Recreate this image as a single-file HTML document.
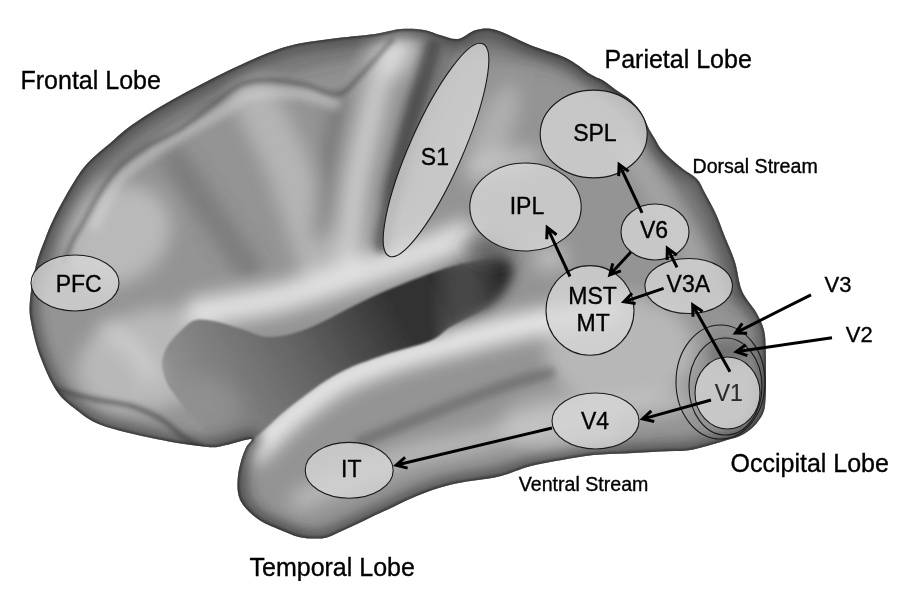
<!DOCTYPE html>
<html><head><meta charset="utf-8"><style>
html,body{margin:0;padding:0;background:#fff;}
svg{display:block;}
text{font-family:"Liberation Sans",sans-serif;fill:#000;stroke:#000;stroke-width:0.35px;}
</style></head><body>
<svg width="899" height="593" viewBox="0 0 899 593">
<defs>
<clipPath id="cb"><path d="M30.0,300.0 C29.2,309.5 29.3,312.7 31.0,322.0 C32.7,331.3 35.8,344.7 40.0,356.0 C44.2,367.3 50.3,381.3 56.0,390.0 C61.7,398.7 66.5,402.2 74.0,408.0 C81.5,413.8 87.3,419.8 101.0,425.0 C114.7,430.2 138.2,435.3 156.0,439.0 C173.8,442.7 196.3,446.0 208.0,447.0 C219.7,448.0 218.8,446.3 226.0,445.0 C233.2,443.7 247.7,438.6 251.0,439.0 C254.3,439.4 247.7,443.6 246.0,447.4 C244.3,451.2 242.2,456.7 240.8,462.0 C239.4,467.3 238.0,473.3 237.7,479.0 C237.3,484.7 237.3,491.1 238.7,496.0 C240.1,500.9 242.3,504.4 246.0,508.6 C249.7,512.8 255.2,517.5 260.8,521.0 C266.4,524.5 273.5,527.0 279.8,529.7 C286.1,532.4 293.3,535.5 298.8,537.0 C304.3,538.5 308.5,538.4 313.0,538.5 C317.5,538.6 321.7,538.8 326.0,537.8 C330.3,536.8 334.0,534.5 339.0,532.3 C344.0,530.1 350.5,527.1 356.0,524.5 C361.5,521.9 366.5,519.3 372.0,516.7 C377.5,514.1 382.5,512.0 389.0,509.0 C395.5,506.0 403.5,501.8 411.0,498.5 C418.5,495.2 426.5,492.0 434.0,489.5 C441.5,487.0 448.7,485.1 456.0,483.5 C463.3,481.9 470.5,481.2 478.0,480.0 C485.5,478.8 492.2,478.3 501.0,476.0 C509.8,473.7 520.8,468.7 531.0,466.0 C541.2,463.3 551.6,461.8 562.0,460.0 C572.4,458.2 583.0,456.1 593.5,455.0 C604.0,453.9 613.9,454.1 625.0,453.5 C636.1,452.9 649.7,451.9 660.0,451.4 C670.3,450.9 679.2,451.4 687.0,450.5 C694.8,449.6 700.3,447.8 707.0,446.0 C713.7,444.2 721.5,441.7 727.0,440.0 C732.5,438.3 735.6,438.2 740.0,436.0 C744.4,433.8 749.7,430.5 753.5,426.7 C757.3,422.9 761.0,417.8 763.0,413.4 C765.0,408.9 765.0,405.9 765.5,400.0 C766.0,394.1 766.0,386.3 766.0,378.0 C766.0,369.7 766.0,358.0 765.7,350.0 C765.4,342.0 765.6,336.3 764.0,330.0 C762.4,323.7 759.7,318.5 756.0,312.0 C752.3,305.5 745.5,299.3 742.0,291.0 C738.5,282.7 737.8,271.0 735.0,262.0 C732.2,253.0 728.2,245.0 725.0,237.0 C721.8,229.0 719.3,221.3 716.0,214.0 C712.7,206.7 708.2,198.8 705.0,193.0 C701.8,187.2 700.7,183.0 697.0,179.0 C693.3,175.0 687.3,172.3 683.0,169.0 C678.7,165.7 674.7,162.3 671.0,159.0 C667.3,155.7 663.7,152.3 661.0,149.0 C658.3,145.7 657.0,142.3 655.0,139.0 C653.0,135.7 650.8,132.5 649.0,129.0 C647.2,125.5 645.8,121.5 644.0,118.0 C642.2,114.5 640.7,111.3 638.0,108.0 C635.3,104.7 631.7,101.0 628.0,98.0 C624.3,95.0 620.0,92.8 616.0,90.0 C612.0,87.2 608.3,83.7 604.0,81.0 C599.7,78.3 596.3,77.8 590.0,74.0 C583.7,70.2 576.0,62.8 566.0,58.0 C556.0,53.2 541.7,49.7 530.0,45.0 C518.3,40.3 505.0,32.5 496.0,30.0 C487.0,27.5 482.3,28.5 476.0,30.0 C469.7,31.5 464.0,38.2 458.0,39.0 C452.0,39.8 445.7,36.5 440.0,35.0 C434.3,33.5 430.5,31.0 424.0,30.0 C417.5,29.0 409.2,28.3 401.0,29.0 C392.8,29.7 386.8,32.3 375.0,34.0 C363.2,35.7 345.0,36.8 330.0,39.0 C315.0,41.2 300.7,42.3 285.0,47.0 C269.3,51.7 254.8,58.2 236.0,67.0 C217.2,75.8 189.0,90.6 172.0,100.0 C155.0,109.4 144.2,116.5 134.0,123.6 C123.8,130.7 118.8,135.8 111.0,142.5 C103.2,149.2 93.7,156.2 87.0,163.7 C80.3,171.2 76.2,178.2 70.7,187.3 C65.2,196.4 58.3,209.2 54.0,218.0 C49.7,226.8 47.7,232.2 44.7,240.0 C41.7,247.8 38.5,255.0 36.0,265.0 C33.5,275.0 30.8,290.5 30.0,300.0Z"/></clipPath>
<filter id="b9" x="-50%" y="-50%" width="200%" height="200%"><feGaussianBlur stdDeviation="9"/></filter>
<filter id="b4" x="-50%" y="-50%" width="200%" height="200%"><feGaussianBlur stdDeviation="3.5"/></filter>
<filter id="b2" x="-20%" y="-20%" width="140%" height="140%"><feGaussianBlur stdDeviation="2"/></filter>
<filter id="b1" x="-20%" y="-20%" width="140%" height="140%"><feGaussianBlur stdDeviation="1.2"/></filter>
<filter id="b14" x="-50%" y="-50%" width="200%" height="200%"><feGaussianBlur stdDeviation="14"/></filter>
<filter id="b6" x="-50%" y="-50%" width="200%" height="200%"><feGaussianBlur stdDeviation="6"/></filter>
<linearGradient id="gmL" x1="430" y1="0" x2="500" y2="0" gradientUnits="userSpaceOnUse"><stop offset="0" stop-color="#fff"/><stop offset="1" stop-color="#000"/></linearGradient>
<linearGradient id="gmR" x1="430" y1="0" x2="500" y2="0" gradientUnits="userSpaceOnUse"><stop offset="0" stop-color="#000"/><stop offset="1" stop-color="#fff"/></linearGradient>
<mask id="mL" maskUnits="userSpaceOnUse" x="0" y="0" width="899" height="593"><rect x="0" y="0" width="899" height="593" fill="url(#gmL)"/></mask>
<mask id="mR" maskUnits="userSpaceOnUse" x="0" y="0" width="899" height="593"><rect x="0" y="0" width="899" height="593" fill="url(#gmR)"/></mask>
<linearGradient id="gf" x1="190" y1="430" x2="480" y2="270" gradientUnits="userSpaceOnUse">
<stop offset="0" stop-color="#939393"/><stop offset="0.4" stop-color="#646464"/><stop offset="0.72" stop-color="#333"/><stop offset="1" stop-color="#2c2c2c"/>
</linearGradient>
</defs>
<g clip-path="url(#cb)">
<rect x="0" y="0" width="899" height="593" fill="#949494"/>
<g filter="url(#b9)"><ellipse cx="115" cy="235" rx="58" ry="48" fill="#d2d2d2" opacity="0.6" transform="rotate(-30 115 235)"/><path d="M52.0,262.0 C55.3,252.5 61.5,222.8 72.0,205.0 C82.5,187.2 97.8,170.5 115.0,155.0 C132.2,139.5 154.2,124.8 175.0,112.0 C195.8,99.2 219.2,86.7 240.0,78.0 C260.8,69.3 280.0,65.0 300.0,60.0 C320.0,55.0 350.0,50.0 360.0,48.0" fill="none" stroke="#303030" stroke-width="22" stroke-linecap="round" stroke-linejoin="round" opacity="0.3"/><ellipse cx="150" cy="360" rx="75" ry="50" fill="#d0d0d0" opacity="0.6" transform="rotate(-15 150 360)"/><path d="M255.0,100.0 C260.0,110.0 276.7,140.8 285.0,160.0 C293.3,179.2 299.2,198.0 305.0,215.0 C310.8,232.0 317.5,254.2 320.0,262.0" fill="none" stroke="#d6d6d6" stroke-width="44" stroke-linecap="round" stroke-linejoin="round" opacity="0.5"/><path d="M175.0,160.0 C181.7,170.0 202.5,201.7 215.0,220.0 C227.5,238.3 244.2,261.7 250.0,270.0" fill="none" stroke="#505050" stroke-width="26" stroke-linecap="round" stroke-linejoin="round" opacity="0.35"/><path d="M388.0,42.0 C385.0,55.0 375.5,95.3 370.0,120.0 C364.5,144.7 358.5,167.0 355.0,190.0 C351.5,213.0 350.0,246.7 349.0,258.0" fill="none" stroke="#dedede" stroke-width="24" stroke-linecap="round" stroke-linejoin="round" opacity="0.75"/><path d="M200.0,312.0 C211.7,310.0 248.3,304.8 270.0,300.0 C291.7,295.2 310.0,289.2 330.0,283.0 C350.0,276.8 372.5,269.0 390.0,263.0 C407.5,257.0 423.0,251.5 435.0,247.0 C447.0,242.5 457.5,237.8 462.0,236.0" fill="none" stroke="#ececec" stroke-width="30" stroke-linecap="round" stroke-linejoin="round" opacity="0.85"/><path d="M470.0,40.0 C485.0,42.5 531.7,44.2 560.0,55.0 C588.3,65.8 626.7,96.7 640.0,105.0" fill="none" stroke="#383838" stroke-width="26" stroke-linecap="round" stroke-linejoin="round" opacity="0.35"/><path d="M342.0,98.0 C339.7,109.5 331.8,144.2 328.0,167.0 C324.2,189.8 320.5,223.7 319.0,235.0" fill="none" stroke="#4a4a4a" stroke-width="16" stroke-linecap="round" stroke-linejoin="round" opacity="0.4"/><path d="M445.0,48.0 C440.0,60.0 423.8,96.3 415.0,120.0 C406.2,143.7 395.8,178.3 392.0,190.0" fill="none" stroke="#303030" stroke-width="28" stroke-linecap="round" stroke-linejoin="round" opacity="0.35"/><ellipse cx="398" cy="55" rx="14" ry="26" fill="#e8e8e8" opacity="0.7" transform="rotate(25 398 55)"/><ellipse cx="620" cy="350" rx="75" ry="55" fill="#cfcfcf" opacity="0.6" transform="rotate(0 620 350)"/><ellipse cx="560" cy="425" rx="60" ry="30" fill="#d0d0d0" opacity="0.5" transform="rotate(0 560 425)"/><path d="M652.0,140.0 C658.3,150.0 678.7,180.3 690.0,200.0 C701.3,219.7 711.7,241.3 720.0,258.0 C728.3,274.7 736.7,293.0 740.0,300.0" fill="none" stroke="#383838" stroke-width="12" stroke-linecap="round" stroke-linejoin="round" opacity="0.5"/><path d="M628.0,150.0 C634.7,160.0 656.3,191.3 668.0,210.0 C679.7,228.7 693.0,253.3 698.0,262.0" fill="none" stroke="#d0d0d0" stroke-width="14" stroke-linecap="round" stroke-linejoin="round" opacity="0.4"/><ellipse cx="550" cy="258" rx="18" ry="14" fill="#dddddd" opacity="0.5" transform="rotate(0 550 258)"/><ellipse cx="728" cy="352" rx="24" ry="11" fill="#303030" opacity="0.45" transform="rotate(0 728 352)"/><ellipse cx="492" cy="135" rx="18" ry="55" fill="#d0d0d0" opacity="0.45" transform="rotate(23 492 135)"/><ellipse cx="505" cy="162" rx="38" ry="13" fill="#d8d8d8" opacity="0.55" transform="rotate(-10 505 162)"/><path d="M255.0,450.0 C261.7,443.7 280.8,423.7 295.0,412.0 C309.2,400.3 324.2,388.7 340.0,380.0 C355.8,371.3 373.3,365.7 390.0,360.0 C406.7,354.3 418.3,351.7 440.0,346.0 C461.7,340.3 491.7,332.3 520.0,326.0 C548.3,319.7 595.0,311.0 610.0,308.0" fill="none" stroke="#f2f2f2" stroke-width="26" stroke-linecap="round" stroke-linejoin="round" opacity="0.9"/><path d="M300.0,500.0 C316.7,493.0 371.7,467.7 400.0,458.0 C428.3,448.3 448.3,447.3 470.0,442.0 C491.7,436.7 508.3,431.0 530.0,426.0 C551.7,421.0 575.0,416.0 600.0,412.0 C625.0,408.0 666.7,403.7 680.0,402.0" fill="none" stroke="#d8d8d8" stroke-width="20" stroke-linecap="round" stroke-linejoin="round" opacity="0.55"/><path d="M330.0,532.0 C350.0,524.7 413.5,500.3 450.0,488.0 C486.5,475.7 507.3,464.8 549.0,458.0 C590.7,451.2 674.8,448.8 700.0,447.0" fill="none" stroke="#404040" stroke-width="10" stroke-linecap="round" stroke-linejoin="round" opacity="0.15"/><path d="M252.0,442.0 C250.3,445.8 244.2,457.0 242.0,465.0 C239.8,473.0 238.2,482.5 239.0,490.0 C239.8,497.5 242.7,504.2 247.0,510.0 C251.3,515.8 256.2,520.3 265.0,525.0 C273.8,529.7 294.2,535.8 300.0,538.0" fill="none" stroke="#383838" stroke-width="12" stroke-linecap="round" stroke-linejoin="round" opacity="0.35"/></g>
<g filter="url(#b4)"><path d="M432.0,48.0 C428.5,60.0 417.5,96.3 411.0,120.0 C404.5,143.7 397.8,169.2 393.0,190.0 C388.2,210.8 383.8,235.8 382.0,245.0" fill="none" stroke="#2a2a2a" stroke-width="16" stroke-linecap="round" stroke-linejoin="round" opacity="0.5"/><path d="M95.0,225.0 C98.3,218.3 108.3,195.0 115.0,185.0 C121.7,175.0 125.0,172.8 135.0,165.0 C145.0,157.2 160.0,147.2 175.0,138.0 C190.0,128.8 212.5,117.2 225.0,110.0 C237.5,102.8 237.5,97.7 250.0,95.0 C262.5,92.3 285.8,92.5 300.0,94.0 C314.2,95.5 329.2,102.3 335.0,104.0" fill="none" stroke="#d8d8d8" stroke-width="12" stroke-linecap="round" stroke-linejoin="round" opacity="0.45"/><path d="M360.0,442.0 C369.2,438.3 396.5,427.3 415.0,420.0 C433.5,412.7 453.5,404.5 471.0,398.0 C488.5,391.5 506.8,385.2 520.0,381.0 C533.2,376.8 545.0,374.3 550.0,373.0" fill="none" stroke="#5a5a5a" stroke-width="12" stroke-linecap="round" stroke-linejoin="round" opacity="0.5"/></g>
<g filter="url(#b2)"><path d="M64.0,262.0 C65.5,258.3 69.8,246.5 73.0,240.0 C76.2,233.5 78.7,230.7 83.0,223.0 C87.3,215.3 93.2,203.1 99.0,194.0 C104.8,184.9 110.2,176.3 118.0,168.5 C125.8,160.7 135.7,153.6 146.0,147.0 C156.3,140.4 167.8,136.8 180.0,129.0 C192.2,121.2 208.7,107.5 219.0,100.0 C229.3,92.5 233.3,87.3 242.0,84.0 C250.7,80.7 260.3,79.8 271.0,80.0 C281.7,80.2 294.8,82.7 306.0,85.0 C317.2,87.3 329.0,95.5 338.0,94.0 C347.0,92.5 351.0,85.0 360.0,76.0 C369.0,67.0 386.7,46.0 392.0,40.0" fill="none" stroke="#2e2e2e" stroke-width="4" stroke-linecap="round" stroke-linejoin="round" opacity="0.45"/></g>
<path d="M162.0,364.0 C162.0,358.0 163.8,352.7 167.0,347.0 C170.2,341.3 176.7,334.5 181.5,330.0 C186.3,325.5 189.9,321.3 196.0,320.0 C202.1,318.7 210.2,320.4 218.0,322.0 C225.8,323.6 234.3,327.0 243.0,329.5 C251.7,332.0 259.0,337.2 270.0,337.0 C281.0,336.8 291.7,334.8 309.0,328.0 C326.3,321.2 352.2,305.7 374.0,296.0 C395.8,286.3 423.0,275.8 440.0,270.0 C457.0,264.2 465.8,263.0 476.0,261.0 C486.2,259.0 494.8,257.2 501.0,258.0 C507.2,258.8 511.7,261.5 513.0,266.0 C514.3,270.5 512.8,278.3 509.0,285.0 C505.2,291.7 499.5,299.2 490.0,306.0 C480.5,312.8 462.0,320.2 452.0,326.0 C442.0,331.8 441.3,336.2 430.0,341.0 C418.7,345.8 399.5,349.5 384.0,355.0 C368.5,360.5 352.7,365.3 337.0,374.0 C321.3,382.7 304.2,396.0 290.0,407.0 C275.8,418.0 261.7,433.7 252.0,440.0 C242.3,446.3 238.5,444.7 232.0,445.0 C225.5,445.3 217.8,445.0 213.0,442.0 C208.2,439.0 207.0,431.8 203.0,427.0 C199.0,422.2 193.3,417.8 189.0,413.0 C184.7,408.2 180.7,403.0 177.0,398.0 C173.3,393.0 169.5,388.7 167.0,383.0 C164.5,377.3 162.0,370.0 162.0,364.0Z" fill="url(#gf)" filter="url(#b1)" mask="url(#mL)"/>
<path d="M162.0,364.0 C162.0,358.0 163.8,352.7 167.0,347.0 C170.2,341.3 176.7,334.5 181.5,330.0 C186.3,325.5 189.9,321.3 196.0,320.0 C202.1,318.7 210.2,320.4 218.0,322.0 C225.8,323.6 234.3,327.0 243.0,329.5 C251.7,332.0 259.0,337.2 270.0,337.0 C281.0,336.8 291.7,334.8 309.0,328.0 C326.3,321.2 352.2,305.7 374.0,296.0 C395.8,286.3 423.0,275.8 440.0,270.0 C457.0,264.2 465.8,263.0 476.0,261.0 C486.2,259.0 494.8,257.2 501.0,258.0 C507.2,258.8 511.7,261.5 513.0,266.0 C514.3,270.5 512.8,278.3 509.0,285.0 C505.2,291.7 499.5,299.2 490.0,306.0 C480.5,312.8 462.0,320.2 452.0,326.0 C442.0,331.8 441.3,336.2 430.0,341.0 C418.7,345.8 399.5,349.5 384.0,355.0 C368.5,360.5 352.7,365.3 337.0,374.0 C321.3,382.7 304.2,396.0 290.0,407.0 C275.8,418.0 261.7,433.7 252.0,440.0 C242.3,446.3 238.5,444.7 232.0,445.0 C225.5,445.3 217.8,445.0 213.0,442.0 C208.2,439.0 207.0,431.8 203.0,427.0 C199.0,422.2 193.3,417.8 189.0,413.0 C184.7,408.2 180.7,403.0 177.0,398.0 C173.3,393.0 169.5,388.7 167.0,383.0 C164.5,377.3 162.0,370.0 162.0,364.0Z" fill="url(#gf)" filter="url(#b6)" mask="url(#mR)"/>
<g filter="url(#b9)"><ellipse cx="215" cy="400" rx="30" ry="20" fill="#9a9a9a" opacity="0.45" transform="rotate(30 215 400)"/><path d="M108.0,330.0 C112.5,333.3 128.0,342.5 135.0,350.0 C142.0,357.5 147.5,370.8 150.0,375.0" fill="none" stroke="#e0e0e0" stroke-width="18" stroke-linecap="round" stroke-linejoin="round" opacity="0.5"/><ellipse cx="488" cy="250" rx="26" ry="12" fill="#3a3a3a" opacity="0.55" transform="rotate(12 488 250)"/></g>
<g filter="url(#b2)"><path d="M55.0,389.0 C61.3,390.7 80.3,396.2 93.0,399.0 C105.7,401.8 119.7,402.7 131.0,406.0 C142.3,409.3 152.5,414.0 161.0,419.0 C169.5,424.0 175.5,431.3 182.0,436.0 C188.5,440.7 197.0,445.2 200.0,447.0" fill="none" stroke="#3a3a3a" stroke-width="5" stroke-linecap="round" stroke-linejoin="round" opacity="0.55"/></g>
<path d="M30.0,300.0 C29.2,309.5 29.3,312.7 31.0,322.0 C32.7,331.3 35.8,344.7 40.0,356.0 C44.2,367.3 50.3,381.3 56.0,390.0 C61.7,398.7 66.5,402.2 74.0,408.0 C81.5,413.8 87.3,419.8 101.0,425.0 C114.7,430.2 138.2,435.3 156.0,439.0 C173.8,442.7 196.3,446.0 208.0,447.0 C219.7,448.0 218.8,446.3 226.0,445.0 C233.2,443.7 247.7,438.6 251.0,439.0 C254.3,439.4 247.7,443.6 246.0,447.4 C244.3,451.2 242.2,456.7 240.8,462.0 C239.4,467.3 238.0,473.3 237.7,479.0 C237.3,484.7 237.3,491.1 238.7,496.0 C240.1,500.9 242.3,504.4 246.0,508.6 C249.7,512.8 255.2,517.5 260.8,521.0 C266.4,524.5 273.5,527.0 279.8,529.7 C286.1,532.4 293.3,535.5 298.8,537.0 C304.3,538.5 308.5,538.4 313.0,538.5 C317.5,538.6 321.7,538.8 326.0,537.8 C330.3,536.8 334.0,534.5 339.0,532.3 C344.0,530.1 350.5,527.1 356.0,524.5 C361.5,521.9 366.5,519.3 372.0,516.7 C377.5,514.1 382.5,512.0 389.0,509.0 C395.5,506.0 403.5,501.8 411.0,498.5 C418.5,495.2 426.5,492.0 434.0,489.5 C441.5,487.0 448.7,485.1 456.0,483.5 C463.3,481.9 470.5,481.2 478.0,480.0 C485.5,478.8 492.2,478.3 501.0,476.0 C509.8,473.7 520.8,468.7 531.0,466.0 C541.2,463.3 551.6,461.8 562.0,460.0 C572.4,458.2 583.0,456.1 593.5,455.0 C604.0,453.9 613.9,454.1 625.0,453.5 C636.1,452.9 649.7,451.9 660.0,451.4 C670.3,450.9 679.2,451.4 687.0,450.5 C694.8,449.6 700.3,447.8 707.0,446.0 C713.7,444.2 721.5,441.7 727.0,440.0 C732.5,438.3 735.6,438.2 740.0,436.0 C744.4,433.8 749.7,430.5 753.5,426.7 C757.3,422.9 761.0,417.8 763.0,413.4 C765.0,408.9 765.0,405.9 765.5,400.0 C766.0,394.1 766.0,386.3 766.0,378.0 C766.0,369.7 766.0,358.0 765.7,350.0 C765.4,342.0 765.6,336.3 764.0,330.0 C762.4,323.7 759.7,318.5 756.0,312.0 C752.3,305.5 745.5,299.3 742.0,291.0 C738.5,282.7 737.8,271.0 735.0,262.0 C732.2,253.0 728.2,245.0 725.0,237.0 C721.8,229.0 719.3,221.3 716.0,214.0 C712.7,206.7 708.2,198.8 705.0,193.0 C701.8,187.2 700.7,183.0 697.0,179.0 C693.3,175.0 687.3,172.3 683.0,169.0 C678.7,165.7 674.7,162.3 671.0,159.0 C667.3,155.7 663.7,152.3 661.0,149.0 C658.3,145.7 657.0,142.3 655.0,139.0 C653.0,135.7 650.8,132.5 649.0,129.0 C647.2,125.5 645.8,121.5 644.0,118.0 C642.2,114.5 640.7,111.3 638.0,108.0 C635.3,104.7 631.7,101.0 628.0,98.0 C624.3,95.0 620.0,92.8 616.0,90.0 C612.0,87.2 608.3,83.7 604.0,81.0 C599.7,78.3 596.3,77.8 590.0,74.0 C583.7,70.2 576.0,62.8 566.0,58.0 C556.0,53.2 541.7,49.7 530.0,45.0 C518.3,40.3 505.0,32.5 496.0,30.0 C487.0,27.5 482.3,28.5 476.0,30.0 C469.7,31.5 464.0,38.2 458.0,39.0 C452.0,39.8 445.7,36.5 440.0,35.0 C434.3,33.5 430.5,31.0 424.0,30.0 C417.5,29.0 409.2,28.3 401.0,29.0 C392.8,29.7 386.8,32.3 375.0,34.0 C363.2,35.7 345.0,36.8 330.0,39.0 C315.0,41.2 300.7,42.3 285.0,47.0 C269.3,51.7 254.8,58.2 236.0,67.0 C217.2,75.8 189.0,90.6 172.0,100.0 C155.0,109.4 144.2,116.5 134.0,123.6 C123.8,130.7 118.8,135.8 111.0,142.5 C103.2,149.2 93.7,156.2 87.0,163.7 C80.3,171.2 76.2,178.2 70.7,187.3 C65.2,196.4 58.3,209.2 54.0,218.0 C49.7,226.8 47.7,232.2 44.7,240.0 C41.7,247.8 38.5,255.0 36.0,265.0 C33.5,275.0 30.8,290.5 30.0,300.0Z" fill="none" stroke="#2a2a2a" stroke-width="18" opacity="0.5" filter="url(#b6)"/>
<path d="M30.0,300.0 C29.2,309.5 29.3,312.7 31.0,322.0 C32.7,331.3 35.8,344.7 40.0,356.0 C44.2,367.3 50.3,381.3 56.0,390.0 C61.7,398.7 66.5,402.2 74.0,408.0 C81.5,413.8 87.3,419.8 101.0,425.0 C114.7,430.2 138.2,435.3 156.0,439.0 C173.8,442.7 196.3,446.0 208.0,447.0 C219.7,448.0 218.8,446.3 226.0,445.0 C233.2,443.7 247.7,438.6 251.0,439.0 C254.3,439.4 247.7,443.6 246.0,447.4 C244.3,451.2 242.2,456.7 240.8,462.0 C239.4,467.3 238.0,473.3 237.7,479.0 C237.3,484.7 237.3,491.1 238.7,496.0 C240.1,500.9 242.3,504.4 246.0,508.6 C249.7,512.8 255.2,517.5 260.8,521.0 C266.4,524.5 273.5,527.0 279.8,529.7 C286.1,532.4 293.3,535.5 298.8,537.0 C304.3,538.5 308.5,538.4 313.0,538.5 C317.5,538.6 321.7,538.8 326.0,537.8 C330.3,536.8 334.0,534.5 339.0,532.3 C344.0,530.1 350.5,527.1 356.0,524.5 C361.5,521.9 366.5,519.3 372.0,516.7 C377.5,514.1 382.5,512.0 389.0,509.0 C395.5,506.0 403.5,501.8 411.0,498.5 C418.5,495.2 426.5,492.0 434.0,489.5 C441.5,487.0 448.7,485.1 456.0,483.5 C463.3,481.9 470.5,481.2 478.0,480.0 C485.5,478.8 492.2,478.3 501.0,476.0 C509.8,473.7 520.8,468.7 531.0,466.0 C541.2,463.3 551.6,461.8 562.0,460.0 C572.4,458.2 583.0,456.1 593.5,455.0 C604.0,453.9 613.9,454.1 625.0,453.5 C636.1,452.9 649.7,451.9 660.0,451.4 C670.3,450.9 679.2,451.4 687.0,450.5 C694.8,449.6 700.3,447.8 707.0,446.0 C713.7,444.2 721.5,441.7 727.0,440.0 C732.5,438.3 735.6,438.2 740.0,436.0 C744.4,433.8 749.7,430.5 753.5,426.7 C757.3,422.9 761.0,417.8 763.0,413.4 C765.0,408.9 765.0,405.9 765.5,400.0 C766.0,394.1 766.0,386.3 766.0,378.0 C766.0,369.7 766.0,358.0 765.7,350.0 C765.4,342.0 765.6,336.3 764.0,330.0 C762.4,323.7 759.7,318.5 756.0,312.0 C752.3,305.5 745.5,299.3 742.0,291.0 C738.5,282.7 737.8,271.0 735.0,262.0 C732.2,253.0 728.2,245.0 725.0,237.0 C721.8,229.0 719.3,221.3 716.0,214.0 C712.7,206.7 708.2,198.8 705.0,193.0 C701.8,187.2 700.7,183.0 697.0,179.0 C693.3,175.0 687.3,172.3 683.0,169.0 C678.7,165.7 674.7,162.3 671.0,159.0 C667.3,155.7 663.7,152.3 661.0,149.0 C658.3,145.7 657.0,142.3 655.0,139.0 C653.0,135.7 650.8,132.5 649.0,129.0 C647.2,125.5 645.8,121.5 644.0,118.0 C642.2,114.5 640.7,111.3 638.0,108.0 C635.3,104.7 631.7,101.0 628.0,98.0 C624.3,95.0 620.0,92.8 616.0,90.0 C612.0,87.2 608.3,83.7 604.0,81.0 C599.7,78.3 596.3,77.8 590.0,74.0 C583.7,70.2 576.0,62.8 566.0,58.0 C556.0,53.2 541.7,49.7 530.0,45.0 C518.3,40.3 505.0,32.5 496.0,30.0 C487.0,27.5 482.3,28.5 476.0,30.0 C469.7,31.5 464.0,38.2 458.0,39.0 C452.0,39.8 445.7,36.5 440.0,35.0 C434.3,33.5 430.5,31.0 424.0,30.0 C417.5,29.0 409.2,28.3 401.0,29.0 C392.8,29.7 386.8,32.3 375.0,34.0 C363.2,35.7 345.0,36.8 330.0,39.0 C315.0,41.2 300.7,42.3 285.0,47.0 C269.3,51.7 254.8,58.2 236.0,67.0 C217.2,75.8 189.0,90.6 172.0,100.0 C155.0,109.4 144.2,116.5 134.0,123.6 C123.8,130.7 118.8,135.8 111.0,142.5 C103.2,149.2 93.7,156.2 87.0,163.7 C80.3,171.2 76.2,178.2 70.7,187.3 C65.2,196.4 58.3,209.2 54.0,218.0 C49.7,226.8 47.7,232.2 44.7,240.0 C41.7,247.8 38.5,255.0 36.0,265.0 C33.5,275.0 30.8,290.5 30.0,300.0Z" fill="none" stroke="#222" stroke-width="4" opacity="0.6" filter="url(#b1)"/>
</g>
<g fill="#d6d6d6" fill-opacity="0.78" stroke="#1a1a1a" stroke-width="1.1">
<ellipse cx="75" cy="283" rx="44" ry="28"/>
<ellipse cx="436" cy="150" rx="26.5" ry="116" transform="rotate(23.8 436 150)"/>
<ellipse cx="593.7" cy="134" rx="53.5" ry="43.9"/>
<ellipse cx="525.5" cy="207" rx="55.7" ry="44"/>
<ellipse cx="655" cy="232" rx="34" ry="28"/>
<ellipse cx="688.7" cy="286" rx="43.8" ry="27.5"/>
<ellipse cx="590" cy="310.4" rx="44" ry="44.8"/>
<ellipse cx="727.5" cy="393" rx="32.5" ry="36"/>
<ellipse cx="595.5" cy="421" rx="43.5" ry="28"/>
<ellipse cx="349.2" cy="470.3" rx="44" ry="27.9"/>
</g>
<g fill="none" stroke="#1a1a1a" stroke-width="1.1">
<ellipse cx="720.5" cy="382" rx="44.5" ry="57"/>
<ellipse cx="725.5" cy="386.5" rx="36.5" ry="48.5"/>
</g>
<path d="M552.0,428.0 L397.6,464.8 M405.1,457.4 L396.1,465.2 L407.6,468.1" fill="none" stroke="#000" stroke-width="3.0" stroke-linecap="butt" stroke-linejoin="miter" stroke-miterlimit="10"/>
<path d="M711.0,400.0 L644.1,418.6 M651.3,410.9 L642.6,419.0 L654.2,421.5" fill="none" stroke="#000" stroke-width="3.0" stroke-linecap="butt" stroke-linejoin="miter" stroke-miterlimit="10"/>
<path d="M730.0,371.7 L693.4,306.2 M702.6,311.4 L692.7,304.9 L693.0,316.8" fill="none" stroke="#000" stroke-width="3.0" stroke-linecap="butt" stroke-linejoin="miter" stroke-miterlimit="10"/>
<path d="M811.0,294.8 L736.7,332.3 M742.3,323.4 L735.4,333.0 L747.2,333.2" fill="none" stroke="#000" stroke-width="3.0" stroke-linecap="butt" stroke-linejoin="miter" stroke-miterlimit="10"/>
<path d="M832.0,337.7 L737.7,351.5 M745.8,344.7 L736.2,351.7 L747.4,355.6" fill="none" stroke="#000" stroke-width="3.0" stroke-linecap="butt" stroke-linejoin="miter" stroke-miterlimit="10"/>
<path d="M570.0,276.5 L547.9,228.9 M556.6,234.7 L547.2,227.5 L546.7,239.3" fill="none" stroke="#000" stroke-width="3.0" stroke-linecap="butt" stroke-linejoin="miter" stroke-miterlimit="10"/>
<path d="M630.9,251.9 L610.8,273.8 M612.8,263.4 L609.8,274.9 L620.9,270.9" fill="none" stroke="#000" stroke-width="3.0" stroke-linecap="butt" stroke-linejoin="miter" stroke-miterlimit="10"/>
<path d="M677.0,267.4 L668.0,249.5 M676.9,255.1 L667.3,248.2 L667.1,260.0" fill="none" stroke="#000" stroke-width="3.0" stroke-linecap="butt" stroke-linejoin="miter" stroke-miterlimit="10"/>
<path d="M663.6,288.3 L625.3,301.3 M632.1,293.2 L623.9,301.8 L635.6,303.6" fill="none" stroke="#000" stroke-width="3.0" stroke-linecap="butt" stroke-linejoin="miter" stroke-miterlimit="10"/>
<path d="M642.1,212.9 L619.8,165.6 M628.6,171.4 L619.1,164.3 L618.7,176.1" fill="none" stroke="#000" stroke-width="3.0" stroke-linecap="butt" stroke-linejoin="miter" stroke-miterlimit="10"/>
<g font-size="25">
<text x="20.5" y="89.4">Frontal Lobe</text>
<text x="604.5" y="68.4">Parietal Lobe</text>
<text x="730.5" y="472">Occipital Lobe</text>
<text x="249.5" y="575.5">Temporal Lobe</text>
</g>
<g font-size="19.6">
<text x="692.5" y="173.1">Dorsal Stream</text>
<text x="518.8" y="491.3">Ventral Stream</text>
</g>
<g font-size="23" text-anchor="middle">
<text x="78.7" y="291.7">PFC</text>
<text x="434.9" y="164.8">S1</text>
<text x="594.9" y="140.7">SPL</text>
<text x="527" y="214.0">IPL</text>
<text x="654" y="237.7">V6</text>
<text x="688.3" y="292.2">V3A</text>
<text x="592.5" y="304.4">MST</text>
<text x="593.2" y="331.3">MT</text>
<text x="728.7" y="400.8" style="fill:#2a2a2a;stroke:#2a2a2a;stroke-width:0.15px">V1</text>
<text x="595.1" y="428.8">V4</text>
<text x="351.3" y="477.2">IT</text>
<text x="838" y="292.3" font-size="22">V3</text>
<text x="859.3" y="342.1" font-size="22">V2</text>
</g>
</svg>
</body></html>
